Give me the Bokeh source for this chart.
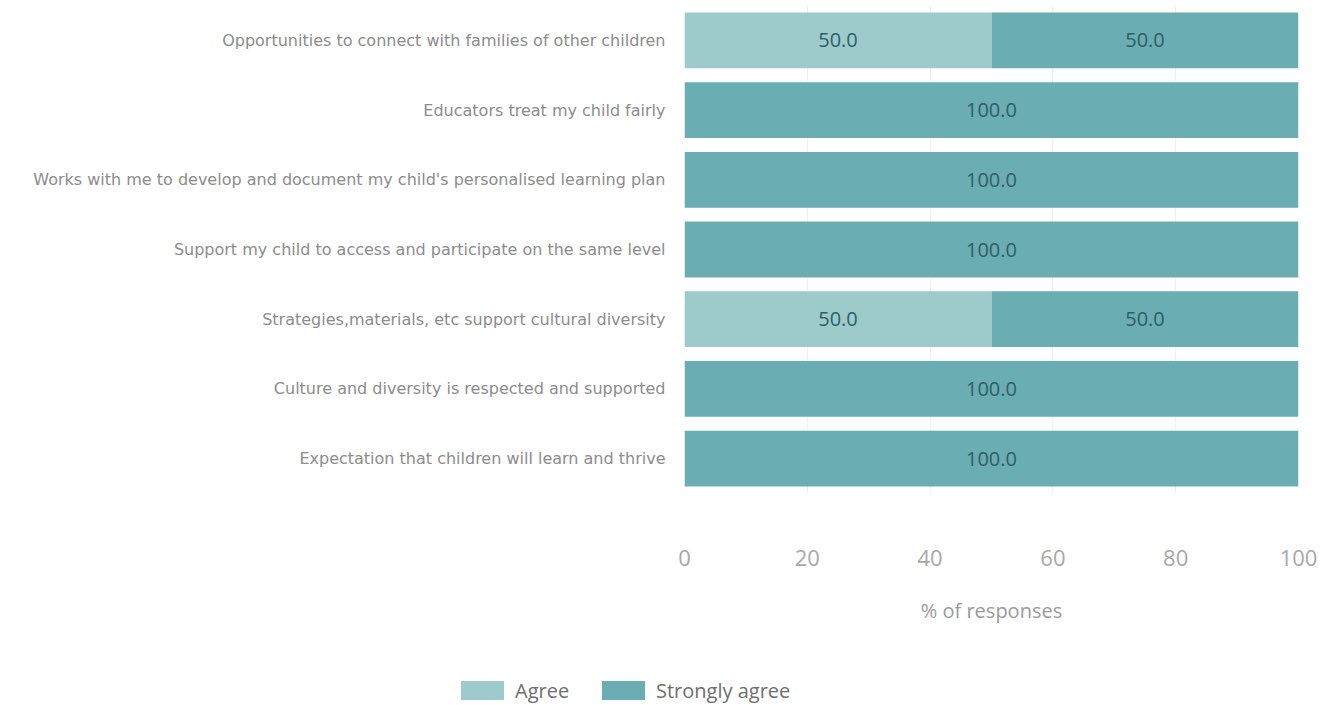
from bokeh.plotting import figure
from bokeh.layouts import column
from bokeh.models import FactorRange, Range1d, FixedTicker, ColumnDataSource, Div
from bokeh.core.properties import value
from bokeh.embed import file_html
from bokeh.resources import INLINE

# Survey items, top to bottom
categories = [
    "Opportunities to connect with families of other children",
    "Educators treat my child fairly",
    "Works with me to develop and document my child's personalised learning plan",
    "Support my child to access and participate on the same level",
    "Strategies,materials, etc support cultural diversity",
    "Culture and diversity is respected and supported",
    "Expectation that children will learn and thrive",
]
agree = [50.0, 0.0, 0.0, 0.0, 50.0, 0.0, 0.0]
strongly_agree = [50.0, 100.0, 100.0, 100.0, 50.0, 100.0, 100.0]
series_names = ["Agree", "Strongly agree"]
x_ticks = [0, 20, 40, 60, 80, 100]

colors = ["#9dcbcb", "#6aadb3"]
FONT = "Open Sans"
W = 1337
FRAME_L, FRAME_R = 684, 1298

p = figure(
    width=W, height=650,
    y_range=FactorRange(factors=list(reversed(categories))),
    x_range=Range1d(0, 100),
    output_backend="svg", toolbar_location=None,
    min_border_left=FRAME_L, min_border_right=W - FRAME_R,
    min_border_top=5, min_border_bottom=157,
)
p.outline_line_color = None
p.background_fill_color = "white"
p.border_fill_color = "white"

src = ColumnDataSource(dict(cat=categories, agree=agree, strongly=strongly_agree))
p.hbar_stack(["agree", "strongly"], y="cat", height=0.8, color=colors,
             line_color=None, source=src)

# Segment value labels
lx, ly, lt = [], [], []
for c, a, s in zip(categories, agree, strongly_agree):
    if a > 0:
        lx.append(a / 2); ly.append(c); lt.append(f"{a:.1f}")
    if s > 0:
        lx.append(a + s / 2); ly.append(c); lt.append(f"{s:.1f}")
p.text(x=lx, y=ly, text=lt, text_align="center", text_baseline="middle",
       text_color="#2f5f66", text_font=value(FONT), text_font_size="20px")

# Axes
p.xaxis.ticker = FixedTicker(ticks=x_ticks)
p.xaxis.axis_line_color = None
p.xaxis.major_tick_line_color = None
p.xaxis.minor_tick_line_color = None
p.xaxis.major_label_standoff = 50
p.xaxis.major_label_text_color = "#a8a8a8"
p.xaxis.major_label_text_font = FONT
p.xaxis.major_label_text_font_size = "22px"
p.xaxis.axis_label = "% of responses"
p.xaxis.axis_label_standoff = 28
p.xaxis.axis_label_text_color = "#9a9a9a"
p.xaxis.axis_label_text_font = FONT
p.xaxis.axis_label_text_font_size = "20px"
p.xaxis.axis_label_text_font_style = "normal"

p.yaxis.axis_line_color = None
p.yaxis.major_tick_line_color = None
p.yaxis.minor_tick_line_color = None
p.yaxis.major_label_standoff = 13
p.yaxis.major_label_text_color = "#8c8c8c"
p.yaxis.major_label_text_font = "DejaVu Sans"
p.yaxis.major_label_text_font_size = "16px"

p.ygrid.grid_line_color = None
p.xgrid.grid_line_color = "#f0f0f0"

# Legend row underneath the chart
swatch_left = [461, 602]
parts = []
for name, col, x in zip(series_names, colors, swatch_left):
    parts.append(
        f'<span style="position:absolute;left:{x}px;top:31px;width:43px;height:19px;'
        f'background:{col};"></span>'
        f'<span style="position:absolute;left:{x + 54}px;top:31px;height:19px;'
        f'line-height:19px;white-space:nowrap;">{name}</span>'
    )
legend_html = (
    f'<div style="position:relative;width:{W}px;height:55px;font-family:\'{FONT}\';'
    f'font-size:20px;color:#6e6e6e;">' + "".join(parts) + "</div>"
)
leg = Div(text=legend_html, width=W, height=55, margin=0)

open("out.html", "w").write(file_html(column(p, leg, spacing=0), INLINE))
